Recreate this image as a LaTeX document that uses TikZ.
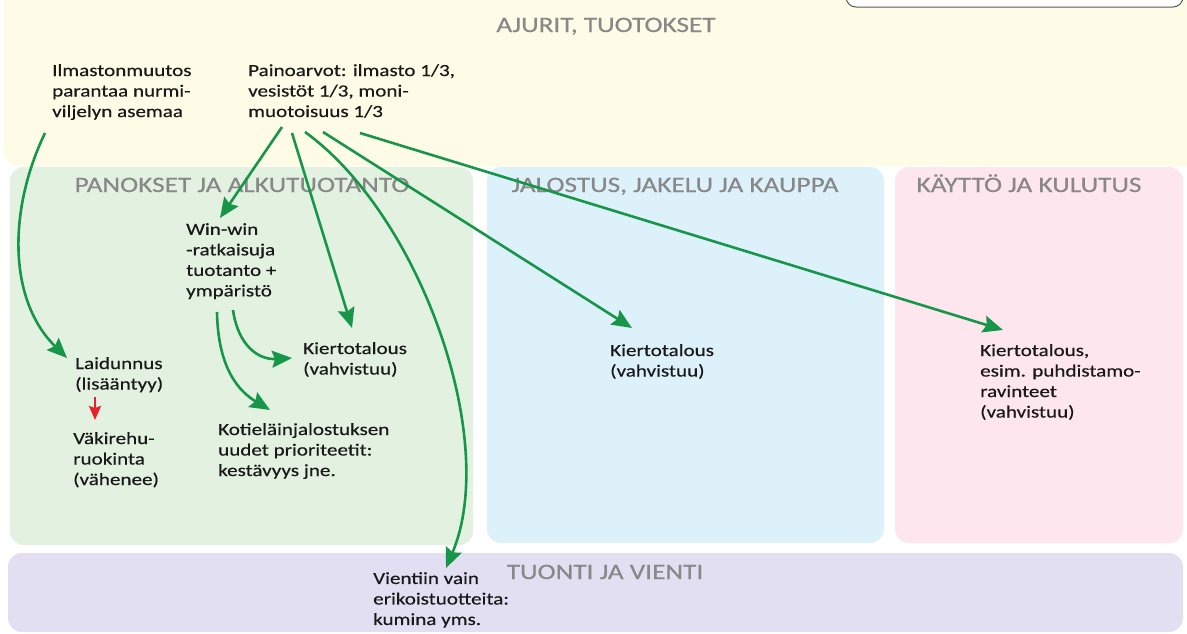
\documentclass[tikz,border=0pt]{standalone}
\usepackage{fontspec}
\setmainfont{Carlito}[FakeStretch=1.24]
\newfontfamily\notefont{Carlito}[FakeStretch=1.24,FakeBold=0.5]
\newfontfamily\titlefont{Carlito}[FakeStretch=1.24,FakeBold=0.4]
\usetikzlibrary{arrows.meta,calc}
\definecolor{bandyellow}{HTML}{FEFCE7}
\definecolor{panelgreen}{HTML}{E3F1E1}
\definecolor{panelblue}{HTML}{DDF1FB}
\definecolor{panelpink}{HTML}{FDE6EE}
\definecolor{panelviolet}{HTML}{E2DFF2}
\definecolor{titlegray}{HTML}{888888}
\definecolor{linkgreen}{HTML}{17964A}
\definecolor{linkred}{HTML}{E8202A}
\begin{document}
\begin{tikzpicture}[x=1pt,y=-1pt,
  panel/.style={rounded corners=14pt},
  areatitle/.style={text=titlegray,font=\titlefont\fontsize{22}{26}\selectfont,inner sep=0pt,text height=14pt,text depth=0pt},
  note/.style={anchor=north west,align=left,inner sep=0pt,text=black!90,font=\notefont\fontsize{17}{20.5}\selectfont},
  link/.style={draw=linkgreen,line width=2.6pt,-{Stealth[length=20pt,width=17pt,inset=3pt]}},
  redlink/.style={draw=linkred,line width=2.4pt,-{Stealth[length=14pt,width=12pt,inset=2pt]}}]
\useasboundingbox (0,0) rectangle (1187,633);
\begin{scope}
  \clip (0,0) rectangle (1187,633);
  % background areas
  \fill[white] (0,0) rectangle (1187,633);
  \fill[bandyellow,panel] (4,-20) rectangle (1200,166);
  \fill[panelgreen,panel] (10,167) rectangle (473,545);
  \fill[panelblue,panel] (487,167) rectangle (884,543);
  \fill[panelpink,panel] (895,167) rectangle (1183,543);
  \fill[panelviolet,panel] (8,553) rectangle (1183,632);
  % legend box cut off at the top edge
  \draw[draw=black!65,fill=white,line width=1pt,rounded corners=10pt] (846,-30) rectangle (1183,7);
\end{scope}

% area titles
\node[areatitle] (tAjurit) at (606,25) {AJURIT, TUOTOKSET};
\node[areatitle] (tPanokset) at (242,185) {PANOKSET JA ALKUTUOTANTO};
\node[areatitle] (tJalostus) at (675,185) {JALOSTUS, JAKELU JA KAUPPA};
\node[areatitle] (tKaytto) at (1029,185) {KÄYTTÖ JA KULUTUS};
\node[areatitle] (tTuonti) at (605,572) {TUONTI JA VIENTI};

% notes
\node[note] (ilm) at (52,64) {Ilmastonmuutos\\parantaa nurmi-\\viljelyn asemaa};
\node[note] (paino) at (248,64) {Painoarvot: ilmasto 1/3,\\vesistöt 1/3, moni-\\muotoisuus 1/3};
\node[note] (win) at (186,223) {Win-win\\-ratkaisuja\\tuotanto +\\ympäristö};
\node[note] (kt1) at (303,342) {Kiertotalous\\(vahvistuu)};
\node[note] (laid) at (75,357) {Laidunnus\\(lisääntyy)};
\node[note] (vaki) at (73,432) {Väkirehu-\\ruokinta\\(vähenee)};
\node[note] (koti) at (218,423) {Kotieläinjalostuksen\\uudet prioriteetit:\\kestävyys jne.};
\node[note] (kt2) at (610,344) {Kiertotalous\\(vahvistuu)};
\node[note] (kt3) at (980,344) {Kiertotalous,\\esim. puhdistamo-\\ravinteet\\(vahvistuu)};
\node[note] (vienti) at (373,572) {Vientiin vain\\erikoistuotteita:\\kumina yms.};

% connectors
\draw[link] ($(ilm.north west)+(-7,69)$) .. controls (8,210) and (8,300) .. ($(laid.north west)+(-8,1)$);
\draw[link] ($(paino.north west)+(34,63)$) -- ($(win.north west)+(34,-5)$);
\draw[link] ($(paino.north west)+(44,69)$) -- ($(kt1.north west)+(49,-14)$);
\draw[link] ($(paino.north west)+(57,68)$) .. controls (420,215) and (500,440) .. ($(vienti.north west)+(73,-4)$);
\draw[link] ($(paino.north west)+(75,68)$) -- ($(kt2.north west)+(22,-16)$);
\draw[link] ($(paino.north west)+(112,69)$) -- ($(kt3.north west)+(23,-14)$);
\draw[link] ($(win.north west)+(47,87)$) .. controls (238,345) and (258,360) .. ($(kt1.north west)+(-11,16)$);
\draw[link] ($(win.north west)+(31,89)$) .. controls (218,370) and (240,392) .. ($(koti.north west)+(52,-13)$);
\draw[redlink] ($(laid.north west)+(20,40)$) -- ($(vaki.north west)+(22,-12)$);
\end{tikzpicture}
\end{document}
